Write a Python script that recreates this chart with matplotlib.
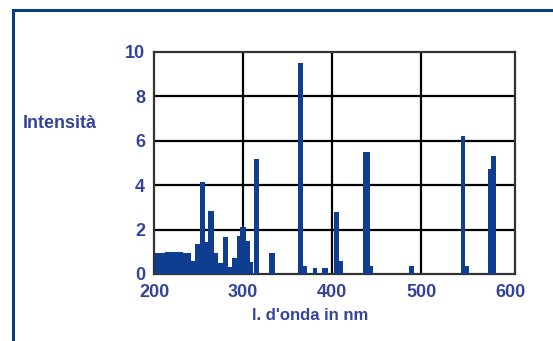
import matplotlib.pyplot as plt
from matplotlib.patches import Rectangle

# spectrum: left edge (nm), right edge (nm), intensity
left = [201, 212, 220, 233, 242, 246, 252, 257, 261, 267, 272, 277, 283.5, 287, 293, 296.5, 303, 308, 312, 328.5,
        362, 367, 378, 388, 401.5, 408, 435, 441, 486, 544, 549, 574.5, 578]
right = [212, 220, 233, 242, 246, 252, 257, 261, 267, 272, 277, 283.5, 287, 293, 296.5, 303, 308, 311.5, 318, 336,
         367, 371.5, 383, 395, 408, 412, 442, 446, 492, 549, 553, 578, 583.5]
intensity = [0.95, 1.0, 1.0, 0.95, 0.6, 1.37, 4.15, 1.45, 2.85, 0.95, 0.5, 1.65, 0.3, 0.7, 1.7, 2.1, 1.5, 0.55, 5.2, 0.95,
             9.5, 0.35, 0.25, 0.25, 2.8, 0.6, 5.5, 0.35, 0.35, 6.2, 0.35, 4.75, 5.3]

xticks = [200, 300, 400, 500, 600]
yticks = [0, 2, 4, 6, 8, 10]

bar_col = '#0f3d8f'
txt_col = '#34449a'

plt.rcParams['font.family'] = ['Liberation Sans', 'DejaVu Sans']

fig = plt.figure(figsize=(5.53, 3.41), dpi=100)
fig.patch.set_facecolor('white')
ax = fig.add_axes([154/553, 1 - 274/341, (515-154)/553, (274-52)/341])

widths = [r - l for l, r in zip(left, right)]
ax.bar(left, intensity, width=widths, align='edge', color=bar_col, linewidth=0, zorder=3)

ax.set_xlim(200, 605)
ax.set_ylim(0, 10)
ax.set_xticks(xticks)
ax.set_yticks(yticks)
# grid only inside the box (no line at 600, the box ends just after it)
for x in xticks[1:-1]:
    ax.axvline(x, color='black', linewidth=1.6, zorder=1)
for y in yticks[1:-1]:
    ax.axhline(y, color='black', linewidth=1.6, zorder=1)
ax.tick_params(length=0, labelsize=13, labelcolor=txt_col)
ax.tick_params(axis='y', pad=6.5)
ax.tick_params(axis='x', pad=7)
for lab in ax.get_xticklabels() + ax.get_yticklabels():
    lab.set_fontweight('bold')
for s in ax.spines.values():
    s.set_color('#333333')
    s.set_linewidth(1.6)

fig.text(23/553, 1 - 124/341, 'Intensità', color=txt_col, fontsize=13, fontweight='bold', va='center', ha='left')
fig.text(310/553, 1 - 316/341, "l. d'onda in nm", color=txt_col, fontsize=12, fontweight='bold', va='center', ha='center')

# blue frame around the figure panel
fig.add_artist(Rectangle((13/553, -0.2), 1.2, 1.2 - 10/341, transform=fig.transFigure,
                         fill=False, edgecolor='#0b3d7c', linewidth=2.2, clip_on=False))

fig.savefig('out.png', dpi=100)
